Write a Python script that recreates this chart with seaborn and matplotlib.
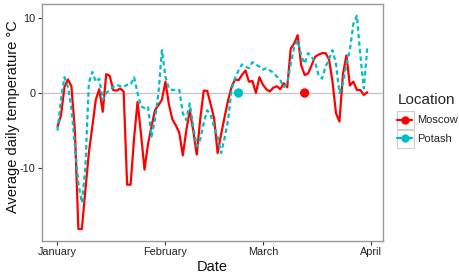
import matplotlib; matplotlib.use('Agg')
import pandas as pd
import numpy as np
import seaborn as sns
import matplotlib.pyplot as plt
import matplotlib.dates as mdates
from matplotlib.lines import Line2D
from matplotlib.patches import Rectangle

# daily mean temperature, Jan 1 - Mar 31
dates = pd.date_range('2015-01-01', '2015-03-31', freq='D')

moscow = [-4.5, -3.0, 0.8, 1.8, 0.9, -5.0, -18.1, -18.1, -13.0, -8.0,
          -4.5, -0.9, 0.5, -2.5, 2.5, 2.3, 0.4, 0.3, 0.6, 0.2,
          -12.2, -12.2, -6.0, -1.2, -5.5, -10.2, -6.8, -4.5, -2.3, -1.6,
          -0.9, 1.5, -1.5, -3.5, -4.3, -5.3, -8.3, -5.0, -2.3, -5.0,
          -8.2, -3.5, 0.3, 0.3, -1.5, -3.4, -8.0, -5.5, -3.2, -1.0,
          0.8, 1.8, 1.7, 2.4, 3.0, 1.5, 1.6, 0.0, 2.1, 1.1,
          0.5, 0.2, 0.7, 0.9, 0.5, 1.3, 0.75, 5.9, 6.6, 7.7,
          3.7, 2.4, 2.6, 3.7, 4.8, 5.1, 5.3, 5.3, 4.5, 1.5,
          -2.7, -3.8, 2.5, 5.0, 1.0, 1.5, 0.4, 0.4, -0.25, 0.1]

potash = [-5.0, -0.9, 2.1, 0.8, -2.0, -7.0, -12.0, -14.6, -10.0, 1.3,
          2.8, 1.5, 1.9, -0.9, 0.0, 0.4, 0.8, 1.1, 0.9, 0.8,
          1.1, 1.1, 2.1, 0.0, -1.8, -2.0, -1.8, -5.8, -3.6, 0.0,
          5.7, 2.2, 0.6, 0.4, 0.4, 0.4, -2.7, -3.6, -1.4, -4.5,
          -7.1, -6.2, -4.0, -2.3, -2.9, -4.5, -5.8, -8.0, -6.0, -3.6,
          0.4, 2.0, 3.0, 3.8, 3.5, 3.3, 4.1, 3.8, 3.5, 3.1,
          3.3, 3.0, 2.7, 2.2, 1.7, 0.8, 1.3, 3.9, 6.1, 7.0,
          5.0, 3.9, 5.3, 4.8, 4.1, 2.4, 1.9, 3.5, 4.5, 5.7,
          3.9, 0.0, 1.3, 3.9, 5.7, 9.2, 10.3, 5.0, 0.6, 6.1]

# dates marked on the zero line
thaw_dates = pd.to_datetime(['2015-03-13', '2015-02-22'])
thaw_locations = ['Moscow', 'Potash']
thaw_values = [0, 0]

locations = ['Moscow', 'Potash']
colors = {'Moscow': '#FF0000', 'Potash': '#00BFC4'}

df = pd.DataFrame({
    'date': list(dates) * 2,
    'temp': moscow + potash,
    'Location': ['Moscow'] * len(dates) + ['Potash'] * len(dates),
})
pts = pd.DataFrame({'date': thaw_dates, 'temp': thaw_values, 'Location': thaw_locations})

sns.set_style('white')
plt.rcParams['font.family'] = ['Liberation Sans', 'DejaVu Sans']

W, H = 459, 273
fig = plt.figure(figsize=(W / 100, H / 100), dpi=100)
ax = fig.add_axes([0.0915, 0.117, 0.7425, 0.870])

ax.axhline(0, color='#c8c8c8', lw=1.0, zorder=0)
sns.lineplot(data=df, x='date', y='temp', hue='Location', style='Location',
             palette=colors, dashes={'Moscow': '', 'Potash': (2.0, 1.4)},
             linewidth=1.6, legend=False, ax=ax)
sns.scatterplot(data=pts, x='date', y='temp', hue='Location', palette=colors,
                s=45, edgecolor='none', legend=False, ax=ax, zorder=5)

pad = pd.Timedelta(days=4.45)
ax.set_xlim(dates[0] - pad, dates[-1] + pad)
ax.set_ylim(-19.7, 11.9)
ax.set_yticks([-10, 0, 10])
ax.set_yticklabels(['-10', '0', '10'])
ax.set_xticks(pd.to_datetime(['2015-01-01', '2015-02-01', '2015-03-01', '2015-04-01']))
ax.xaxis.set_major_formatter(mdates.DateFormatter('%B'))

for s in ax.spines.values():
    s.set_color('#999999')
    s.set_linewidth(1.0)
ax.tick_params(axis='both', length=3, width=0.8, color='#333333',
               labelsize=7.8, labelcolor='#222222', pad=1.5, left=True, bottom=True)

ax.set_xlabel('Date', fontsize=10.5, color='#111111', labelpad=2)
ax.set_ylabel('Average daily temperature \u00b0C', fontsize=10.5, color='#111111')
ax.yaxis.set_label_coords(-0.066, 0.525)

# legend key boxes (grey outline like the reference)
for top in (111, 130):
    fig.patches.append(Rectangle((396.5 / W, 1 - (top + 17.5) / H), 17 / W, 17.5 / H,
                                 transform=fig.transFigure, facecolor='white',
                                 edgecolor='#d0d0d0', lw=0.8, zorder=0))

handles = [Line2D([0], [0], color=colors[k], lw=1.6, marker='o', markersize=6,
                  markeredgecolor='none') for k in locations]
leg = fig.legend(handles, locations, title='Location', loc='upper left',
                 bbox_to_anchor=(0.866, 0.66), frameon=False, fontsize=8,
                 title_fontsize=11, handlelength=1.3, handletextpad=0.45,
                 labelspacing=0.78, borderaxespad=0, borderpad=0)
leg._legend_box.align = 'left'

fig.savefig('out.png', dpi=100)
plt.close(fig)
